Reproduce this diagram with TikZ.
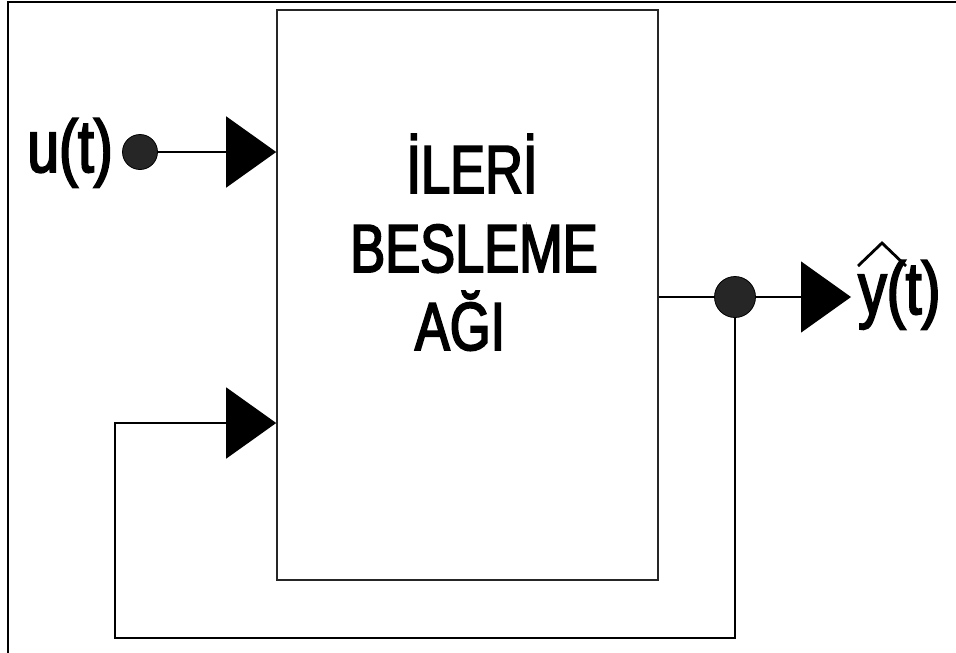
\documentclass[tikz,border=0pt]{standalone}
\usepackage{fontspec}
\usetikzlibrary{arrows.meta}
% condensed, heavy sans for all labels
\newfontfamily\narrowsf[FakeStretch=0.77,FakeBold=2.6]{Liberation Sans}
\begin{document}
\begin{tikzpicture}[x=1pt,y=-1pt,
  wire/.style={line width=1.3pt, black},
  feed/.style={wire, -{Triangle[length=50pt,width=71pt]}},
  junction/.style={circle, fill=black!85, draw=black, line width=0.8pt, inner sep=0pt, minimum size=#1},
  signal/.style={font=\narrowsf\fontsize{74}{74}\selectfont, inner sep=0pt, text=black},
  blocktext/.style={font=\narrowsf\fontsize{68}{68}\selectfont, inner sep=0pt, anchor=base, text=black},
  block/.style={draw=black!85, line width=1.6pt, minimum width=381pt, minimum height=570pt, inner sep=0pt}
]
\useasboundingbox (0,0) rectangle (956,653);
% page frame (left and top edges)
\draw[line width=2.5pt] (8,653) -- (8,2) -- (956,2);

% the feed-forward network block
\node[block] (net) at (467.5,295) {};
\node[blocktext] (l1) at (472,193) {İLERİ};
\node[blocktext] (l2) at (474,272) {BESLEME};
\node[blocktext] (l3) at (460,350) {AĞI};

% input u(t)
\node[signal, anchor=base east] (u) at (113,172) {u(t)};
\node[junction=35pt] (udot) at (140,152) {};
\draw[feed] (udot) -- (net.west |- udot);

% output y(t) with its hat
\node[junction=41pt] (ydot) at (735,297) {};
\node[signal, anchor=base west] (y) at (858,314) {y(t)};
\coordinate (yend) at (851,297);
\draw[wire] (net.east |- ydot) -- (ydot);
\draw[feed] (ydot) -- (yend);
\draw[line width=2.8pt, line join=miter] (858,266) -- (882,243) -- (906,266);

% feedback loop
\coordinate (fb1) at (735,638);
\coordinate (fb2) at (115,638);
\coordinate (fb3) at (115,423);
\draw[feed] (ydot) -- (fb1) -- (fb2) -- (fb3) -- (net.west |- fb3);
\end{tikzpicture}
\end{document}
